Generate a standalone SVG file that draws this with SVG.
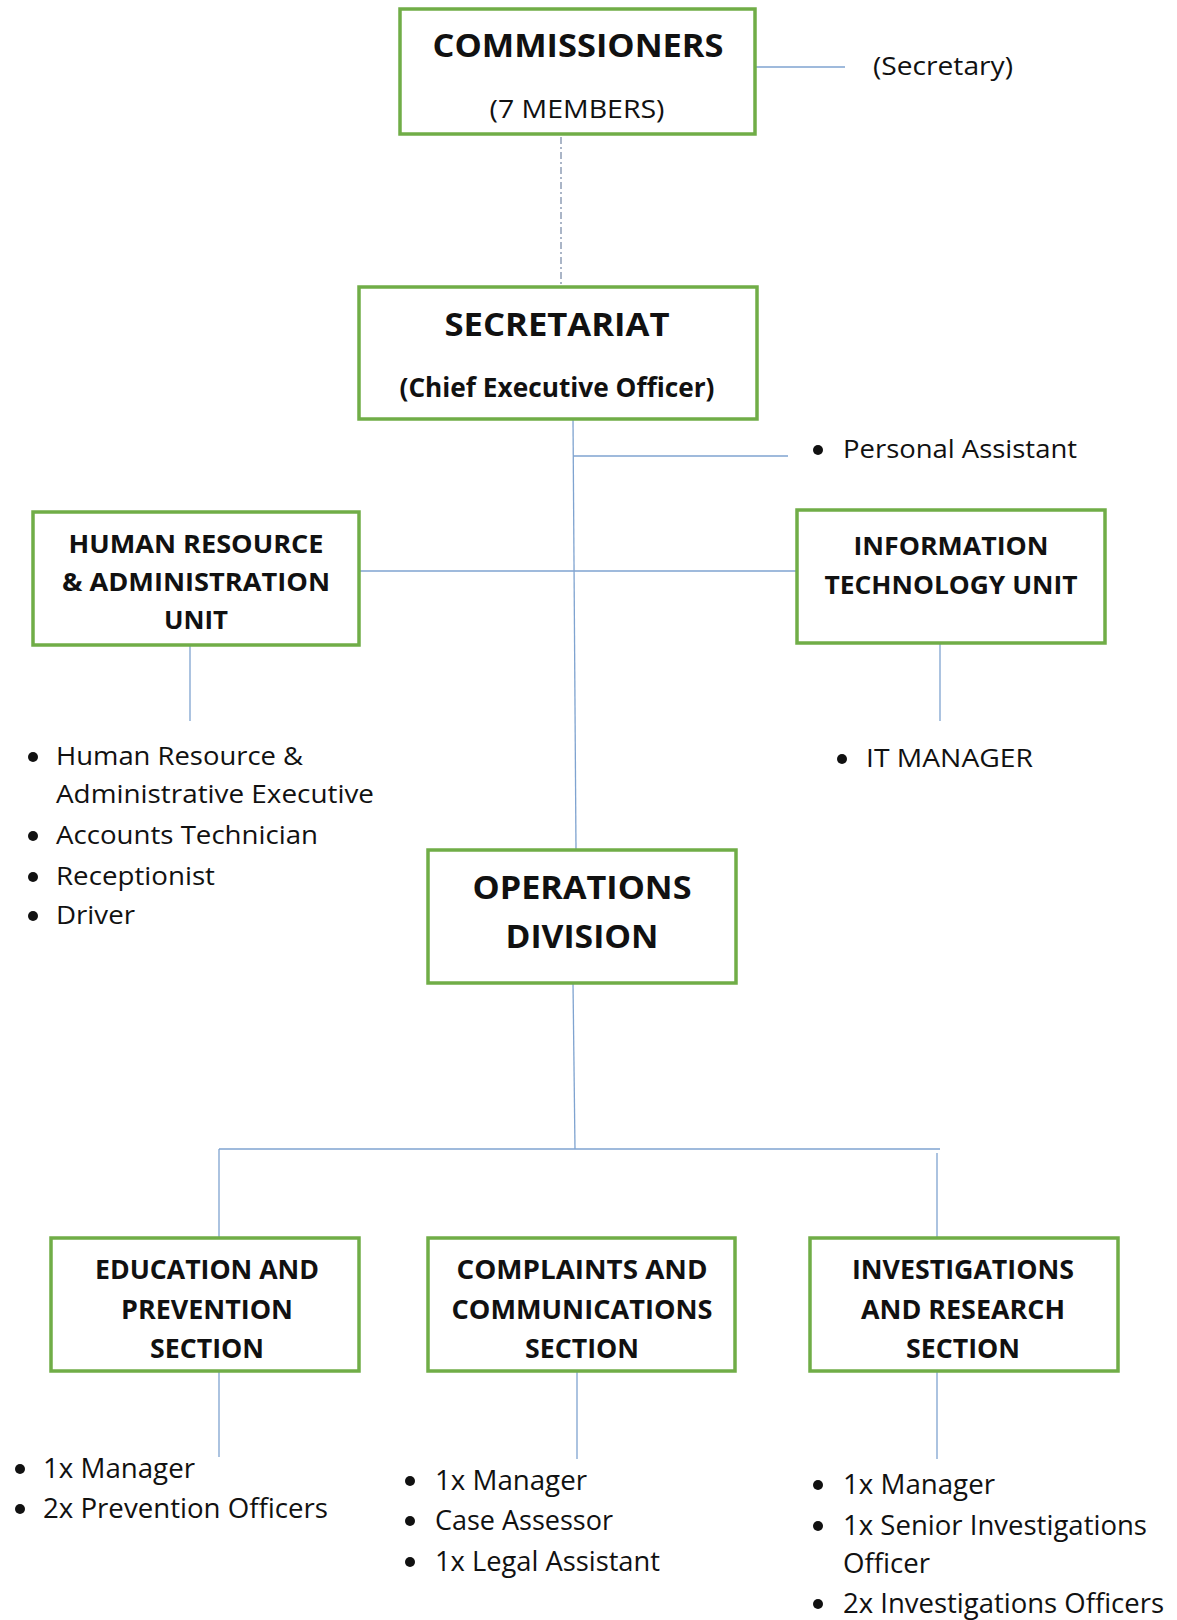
<svg xmlns="http://www.w3.org/2000/svg" width="1177" height="1620" viewBox="0 0 1177 1620">
<style>
.box{fill:#fff;stroke:#70AD47;stroke-width:3.5}
.h{font-family:"Open Sans","Liberation Sans",sans-serif;font-weight:bold;fill:#111;text-anchor:middle}
.t{font-family:"Open Sans","Liberation Sans",sans-serif;fill:#111;font-size:25px}
.tc{font-size:27px}
.c{stroke:#7FA3D0;stroke-width:1.3;fill:none}
.d{stroke:#8E9DB5;stroke-width:1.5;stroke-dasharray:7 3 2 3;fill:none}
.b{fill:#111}
</style>
<rect width="1177" height="1620" fill="#fff"/>
<g id="connectors">
<line class="c" x1="755" y1="67" x2="845" y2="67"/>
<line class="d" x1="561" y1="137" x2="561" y2="286"/>
<line class="c" x1="573" y1="419" x2="576" y2="850"/>
<line class="c" x1="573" y1="456" x2="788" y2="456"/>
<line class="c" x1="359" y1="571" x2="797" y2="571"/>
<line class="c" x1="190" y1="645" x2="190" y2="721"/>
<line class="c" x1="940" y1="643" x2="940" y2="721"/>
<line class="c" x1="573" y1="983" x2="575" y2="1149"/>
<line class="c" x1="219" y1="1149" x2="940" y2="1149"/>
<line class="c" x1="219" y1="1149" x2="219" y2="1238"/>
<line class="c" x1="937" y1="1153" x2="937" y2="1238"/>
<line class="c" x1="219" y1="1371" x2="219" y2="1457"/>
<line class="c" x1="577" y1="1371" x2="577" y2="1459"/>
<line class="c" x1="937" y1="1371" x2="937" y2="1459"/>
</g>
<g id="commissioners">
<rect class="box" x="400" y="9" width="355" height="125"/>
<text class="h" x="578" y="57" font-size="33" textLength="291" lengthAdjust="spacingAndGlyphs">COMMISSIONERS</text>
<text class="t" x="577" y="118" text-anchor="middle" textLength="175" lengthAdjust="spacingAndGlyphs">(7 MEMBERS)</text>
</g>
<g id="secretary">
<text class="t" x="873" y="75" textLength="140" lengthAdjust="spacingAndGlyphs">(Secretary)</text>
</g>
<g id="secretariat">
<rect class="box" x="359" y="287" width="398" height="132"/>
<text class="h" x="557" y="336" font-size="33" textLength="225" lengthAdjust="spacingAndGlyphs">SECRETARIAT</text>
<text class="h" x="557" y="397" font-size="26" textLength="315" lengthAdjust="spacingAndGlyphs">(Chief Executive Officer)</text>
</g>
<g id="personal-assistant">
<circle class="b" cx="818" cy="450" r="5"/>
<text class="t" x="843" y="458" textLength="234" lengthAdjust="spacingAndGlyphs">Personal Assistant</text>
</g>
<g id="hr-unit">
<rect class="box" x="33" y="512" width="326" height="133"/>
<text class="h" x="196" y="553" font-size="25" textLength="255" lengthAdjust="spacingAndGlyphs">HUMAN RESOURCE</text>
<text class="h" x="196" y="591" font-size="25" textLength="268" lengthAdjust="spacingAndGlyphs">&amp; ADMINISTRATION</text>
<text class="h" x="196" y="629" font-size="25" textLength="64" lengthAdjust="spacingAndGlyphs">UNIT</text>
</g>
<g id="hr-staff">
<circle class="b" cx="33" cy="757" r="5"/>
<text class="t" x="56" y="765" textLength="247" lengthAdjust="spacingAndGlyphs">Human Resource &amp;</text>
<text class="t" x="56" y="803" textLength="318" lengthAdjust="spacingAndGlyphs">Administrative Executive</text>
<circle class="b" cx="33" cy="836" r="5"/>
<text class="t" x="56" y="844" textLength="262" lengthAdjust="spacingAndGlyphs">Accounts Technician</text>
<circle class="b" cx="33" cy="877" r="5"/>
<text class="t" x="56" y="885" textLength="159" lengthAdjust="spacingAndGlyphs">Receptionist</text>
<circle class="b" cx="33" cy="916" r="5"/>
<text class="t" x="56" y="924" textLength="79" lengthAdjust="spacingAndGlyphs">Driver</text>
</g>
<g id="it-unit">
<rect class="box" x="797" y="510" width="308" height="133"/>
<text class="h" x="951" y="555" font-size="25" textLength="195" lengthAdjust="spacingAndGlyphs">INFORMATION</text>
<text class="h" x="951" y="594" font-size="25" textLength="253" lengthAdjust="spacingAndGlyphs">TECHNOLOGY UNIT</text>
</g>
<g id="it-staff">
<circle class="b" cx="842" cy="759" r="5"/>
<text class="t" x="866" y="767" textLength="167" lengthAdjust="spacingAndGlyphs">IT MANAGER</text>
</g>
<g id="operations">
<rect class="box" x="428" y="850" width="308" height="133"/>
<text class="h" x="582" y="899" font-size="33" textLength="219" lengthAdjust="spacingAndGlyphs">OPERATIONS</text>
<text class="h" x="582" y="948" font-size="33" textLength="153" lengthAdjust="spacingAndGlyphs">DIVISION</text>
</g>
<g id="education">
<rect class="box" x="51" y="1238" width="308" height="133"/>
<text class="h" x="207" y="1279" font-size="27" textLength="224" lengthAdjust="spacingAndGlyphs">EDUCATION AND</text>
<text class="h" x="207" y="1319" font-size="27" textLength="172" lengthAdjust="spacingAndGlyphs">PREVENTION</text>
<text class="h" x="207" y="1358" font-size="27" textLength="114" lengthAdjust="spacingAndGlyphs">SECTION</text>
</g>
<g id="education-staff">
<circle class="b" cx="20" cy="1469" r="5"/>
<text class="t tc" x="43" y="1478" textLength="152" lengthAdjust="spacingAndGlyphs">1x Manager</text>
<circle class="b" cx="20" cy="1509" r="5"/>
<text class="t tc" x="43" y="1518" textLength="285" lengthAdjust="spacingAndGlyphs">2x Prevention Officers</text>
</g>
<g id="complaints">
<rect class="box" x="428" y="1238" width="307" height="133"/>
<text class="h" x="582" y="1279" font-size="27" textLength="251" lengthAdjust="spacingAndGlyphs">COMPLAINTS AND</text>
<text class="h" x="582" y="1319" font-size="27" textLength="261" lengthAdjust="spacingAndGlyphs">COMMUNICATIONS</text>
<text class="h" x="582" y="1358" font-size="27" textLength="114" lengthAdjust="spacingAndGlyphs">SECTION</text>
</g>
<g id="complaints-staff">
<circle class="b" cx="410" cy="1481" r="5"/>
<text class="t tc" x="435" y="1490" textLength="152" lengthAdjust="spacingAndGlyphs">1x Manager</text>
<circle class="b" cx="410" cy="1521" r="5"/>
<text class="t tc" x="435" y="1530" textLength="178" lengthAdjust="spacingAndGlyphs">Case Assessor</text>
<circle class="b" cx="410" cy="1562" r="5"/>
<text class="t tc" x="435" y="1571" textLength="225" lengthAdjust="spacingAndGlyphs">1x Legal Assistant</text>
</g>
<g id="investigations">
<rect class="box" x="810" y="1238" width="308" height="133"/>
<text class="h" x="963" y="1279" font-size="27" textLength="222" lengthAdjust="spacingAndGlyphs">INVESTIGATIONS</text>
<text class="h" x="963" y="1319" font-size="27" textLength="204" lengthAdjust="spacingAndGlyphs">AND RESEARCH</text>
<text class="h" x="963" y="1358" font-size="27" textLength="114" lengthAdjust="spacingAndGlyphs">SECTION</text>
</g>
<g id="investigations-staff">
<circle class="b" cx="818" cy="1485" r="5"/>
<text class="t tc" x="843" y="1494" textLength="152" lengthAdjust="spacingAndGlyphs">1x Manager</text>
<circle class="b" cx="818" cy="1526" r="5"/>
<text class="t tc" x="843" y="1535" textLength="304" lengthAdjust="spacingAndGlyphs">1x Senior Investigations</text>
<text class="t tc" x="843" y="1573" textLength="87" lengthAdjust="spacingAndGlyphs">Officer</text>
<circle class="b" cx="818" cy="1604" r="5"/>
<text class="t tc" x="843" y="1613" textLength="321" lengthAdjust="spacingAndGlyphs">2x Investigations Officers</text>
</g>
</svg>
